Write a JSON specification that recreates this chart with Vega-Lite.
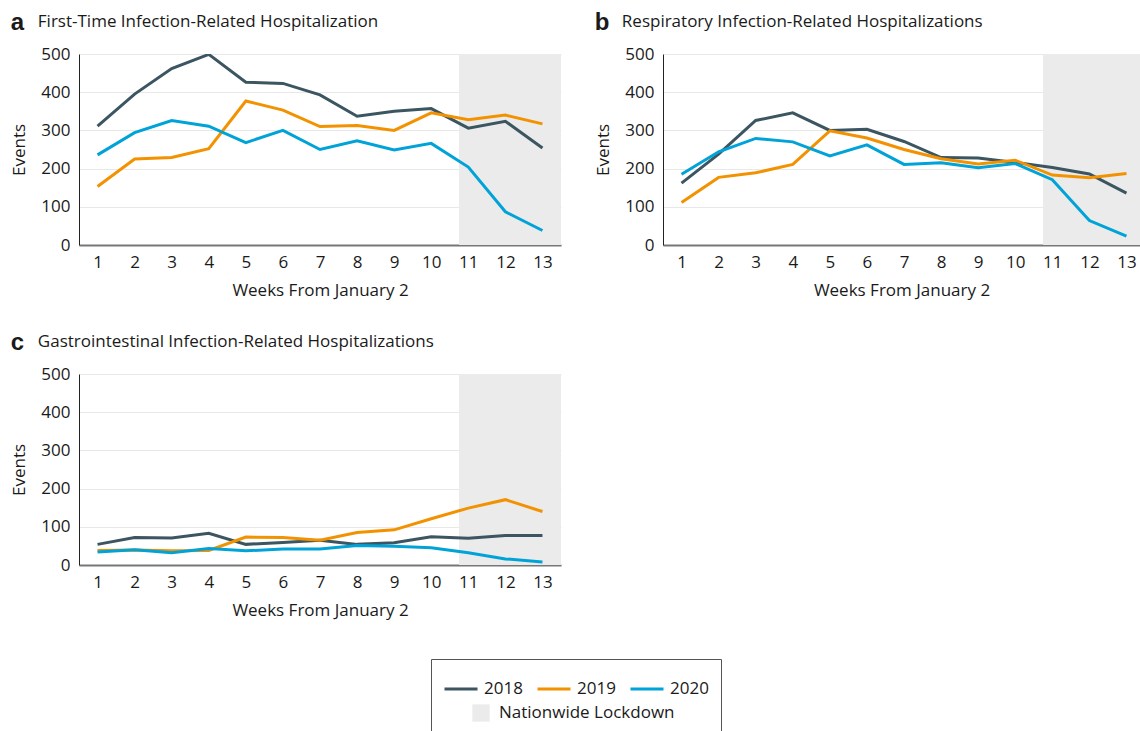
{
  "$schema": "https://vega.github.io/schema/vega-lite/v6.json",
  "padding": {"left": 10, "top": 11, "right": 0, "bottom": 0},
  "background": "white",
  "config": {
    "font": "Open Sans",
    "view": {"stroke": null},
    "axis": {"labelFont": "Open Sans", "labelFontSize": 17, "labelColor": "#1a1a1a", "titleFont": "Open Sans", "titleFontSize": 17, "titleFontWeight": "normal", "titleColor": "#1a1a1a", "ticks": false},
    "axisY": {"gridColor": "#e8e8e8", "domainColor": "#222222", "labelPadding": 9, "titlePadding": 12},
    "axisX": {"grid": false, "domainColor": "#777777", "domainWidth": 2, "labelPadding": 9, "titlePadding": 12, "labelOverlap": false, "labelFlush": false, "labelBound": false},
    "title": {"font": "Open Sans", "fontSize": 17, "fontWeight": "normal", "anchor": "start", "color": "#1a1a1a"},
    "legend": {"labelFont": "Open Sans", "labelFontSize": 17, "labelColor": "#1a1a1a", "labelLimit": 300}
  },
  "datasets": {
    "lock": [{"start": 10.75, "end": 13.5, "series": "Nationwide Lockdown"}],
    "d": [
      {"p": "a", "series": "2018", "week": 1, "v": 311}, {"p": "a", "series": "2018", "week": 2, "v": 395}, {"p": "a", "series": "2018", "week": 3, "v": 462}, {"p": "a", "series": "2018", "week": 4, "v": 499}, {"p": "a", "series": "2018", "week": 5, "v": 426}, {"p": "a", "series": "2018", "week": 6, "v": 423}, {"p": "a", "series": "2018", "week": 7, "v": 393}, {"p": "a", "series": "2018", "week": 8, "v": 337}, {"p": "a", "series": "2018", "week": 9, "v": 350}, {"p": "a", "series": "2018", "week": 10, "v": 357}, {"p": "a", "series": "2018", "week": 11, "v": 306}, {"p": "a", "series": "2018", "week": 12, "v": 324}, {"p": "a", "series": "2018", "week": 13, "v": 254},
      {"p": "a", "series": "2019", "week": 1, "v": 153}, {"p": "a", "series": "2019", "week": 2, "v": 225}, {"p": "a", "series": "2019", "week": 3, "v": 229}, {"p": "a", "series": "2019", "week": 4, "v": 252}, {"p": "a", "series": "2019", "week": 5, "v": 377}, {"p": "a", "series": "2019", "week": 6, "v": 353}, {"p": "a", "series": "2019", "week": 7, "v": 310}, {"p": "a", "series": "2019", "week": 8, "v": 313}, {"p": "a", "series": "2019", "week": 9, "v": 300}, {"p": "a", "series": "2019", "week": 10, "v": 346}, {"p": "a", "series": "2019", "week": 11, "v": 328}, {"p": "a", "series": "2019", "week": 12, "v": 340}, {"p": "a", "series": "2019", "week": 13, "v": 317},
      {"p": "a", "series": "2020", "week": 1, "v": 236}, {"p": "a", "series": "2020", "week": 2, "v": 294}, {"p": "a", "series": "2020", "week": 3, "v": 326}, {"p": "a", "series": "2020", "week": 4, "v": 311}, {"p": "a", "series": "2020", "week": 5, "v": 268}, {"p": "a", "series": "2020", "week": 6, "v": 300}, {"p": "a", "series": "2020", "week": 7, "v": 250}, {"p": "a", "series": "2020", "week": 8, "v": 273}, {"p": "a", "series": "2020", "week": 9, "v": 249}, {"p": "a", "series": "2020", "week": 10, "v": 266}, {"p": "a", "series": "2020", "week": 11, "v": 204}, {"p": "a", "series": "2020", "week": 12, "v": 87}, {"p": "a", "series": "2020", "week": 13, "v": 38},
      {"p": "b", "series": "2018", "week": 1, "v": 162}, {"p": "b", "series": "2018", "week": 2, "v": 238}, {"p": "b", "series": "2018", "week": 3, "v": 326}, {"p": "b", "series": "2018", "week": 4, "v": 346}, {"p": "b", "series": "2018", "week": 5, "v": 300}, {"p": "b", "series": "2018", "week": 6, "v": 303}, {"p": "b", "series": "2018", "week": 7, "v": 271}, {"p": "b", "series": "2018", "week": 8, "v": 229}, {"p": "b", "series": "2018", "week": 9, "v": 228}, {"p": "b", "series": "2018", "week": 10, "v": 216}, {"p": "b", "series": "2018", "week": 11, "v": 203}, {"p": "b", "series": "2018", "week": 12, "v": 186}, {"p": "b", "series": "2018", "week": 13, "v": 136},
      {"p": "b", "series": "2019", "week": 1, "v": 111}, {"p": "b", "series": "2019", "week": 2, "v": 177}, {"p": "b", "series": "2019", "week": 3, "v": 189}, {"p": "b", "series": "2019", "week": 4, "v": 211}, {"p": "b", "series": "2019", "week": 5, "v": 299}, {"p": "b", "series": "2019", "week": 6, "v": 280}, {"p": "b", "series": "2019", "week": 7, "v": 250}, {"p": "b", "series": "2019", "week": 8, "v": 226}, {"p": "b", "series": "2019", "week": 9, "v": 212}, {"p": "b", "series": "2019", "week": 10, "v": 222}, {"p": "b", "series": "2019", "week": 11, "v": 183}, {"p": "b", "series": "2019", "week": 12, "v": 176}, {"p": "b", "series": "2019", "week": 13, "v": 187},
      {"p": "b", "series": "2020", "week": 1, "v": 185}, {"p": "b", "series": "2020", "week": 2, "v": 244}, {"p": "b", "series": "2020", "week": 3, "v": 279}, {"p": "b", "series": "2020", "week": 4, "v": 270}, {"p": "b", "series": "2020", "week": 5, "v": 233}, {"p": "b", "series": "2020", "week": 6, "v": 262}, {"p": "b", "series": "2020", "week": 7, "v": 211}, {"p": "b", "series": "2020", "week": 8, "v": 215}, {"p": "b", "series": "2020", "week": 9, "v": 202}, {"p": "b", "series": "2020", "week": 10, "v": 213}, {"p": "b", "series": "2020", "week": 11, "v": 171}, {"p": "b", "series": "2020", "week": 12, "v": 64}, {"p": "b", "series": "2020", "week": 13, "v": 23},
      {"p": "c", "series": "2018", "week": 1, "v": 54}, {"p": "c", "series": "2018", "week": 2, "v": 72}, {"p": "c", "series": "2018", "week": 3, "v": 71}, {"p": "c", "series": "2018", "week": 4, "v": 83}, {"p": "c", "series": "2018", "week": 5, "v": 54}, {"p": "c", "series": "2018", "week": 6, "v": 59}, {"p": "c", "series": "2018", "week": 7, "v": 65}, {"p": "c", "series": "2018", "week": 8, "v": 54}, {"p": "c", "series": "2018", "week": 9, "v": 58}, {"p": "c", "series": "2018", "week": 10, "v": 74}, {"p": "c", "series": "2018", "week": 11, "v": 70}, {"p": "c", "series": "2018", "week": 12, "v": 77}, {"p": "c", "series": "2018", "week": 13, "v": 77},
      {"p": "c", "series": "2019", "week": 1, "v": 38}, {"p": "c", "series": "2019", "week": 2, "v": 39}, {"p": "c", "series": "2019", "week": 3, "v": 37}, {"p": "c", "series": "2019", "week": 4, "v": 38}, {"p": "c", "series": "2019", "week": 5, "v": 73}, {"p": "c", "series": "2019", "week": 6, "v": 72}, {"p": "c", "series": "2019", "week": 7, "v": 65}, {"p": "c", "series": "2019", "week": 8, "v": 85}, {"p": "c", "series": "2019", "week": 9, "v": 92}, {"p": "c", "series": "2019", "week": 10, "v": 121}, {"p": "c", "series": "2019", "week": 11, "v": 149}, {"p": "c", "series": "2019", "week": 12, "v": 171}, {"p": "c", "series": "2019", "week": 13, "v": 140},
      {"p": "c", "series": "2020", "week": 1, "v": 34}, {"p": "c", "series": "2020", "week": 2, "v": 40}, {"p": "c", "series": "2020", "week": 3, "v": 32}, {"p": "c", "series": "2020", "week": 4, "v": 43}, {"p": "c", "series": "2020", "week": 5, "v": 37}, {"p": "c", "series": "2020", "week": 6, "v": 42}, {"p": "c", "series": "2020", "week": 7, "v": 42}, {"p": "c", "series": "2020", "week": 8, "v": 51}, {"p": "c", "series": "2020", "week": 9, "v": 49}, {"p": "c", "series": "2020", "week": 10, "v": 45}, {"p": "c", "series": "2020", "week": 11, "v": 32}, {"p": "c", "series": "2020", "week": 12, "v": 16}, {"p": "c", "series": "2020", "week": 13, "v": 8}
    ]
  },
  "spacing": 33,
  "vconcat": [
    {
      "spacing": 33,
      "hconcat": [
        {
          "title": {"text": "a", "font": "Liberation Sans", "fontWeight": "bold", "fontSize": 24, "dy": 26},
          "vconcat": [
            {
              "title": {"text": "First-Time Infection-Related Hospitalization", "dx": 27, "offset": 14},
              "width": 482, "height": 191,
              "layer": [
                {"data": {"name": "lock"}, "mark": {"type": "rect", "clip": true},
                 "encoding": {
                   "x": {"field": "start", "type": "quantitative", "scale": {"domain": [0.5, 13.5], "zero": false, "nice": false}, "axis": {"values": [1,2,3,4,5,6,7,8,9,10,11,12,13], "title": "Weeks From January 2", "labelOverlap": false, "labelFlush": false}},
                   "x2": {"field": "end"},
                   "fill": {"field": "series", "type": "nominal", "scale": {"domain": ["Nationwide Lockdown"], "range": ["#ebebeb"]},
                     "legend": {"orient": "none", "legendX": 393, "legendY": 650, "direction": "horizontal", "title": null, "padding": 0, "symbolType": "square", "symbolSize": 300, "symbolStrokeWidth": 0, "symbolOpacity": 1, "labelOffset": 9, "labelLimit": 300}}
                 }},
                {"data": {"name": "d"}, "transform": [{"filter": "datum.p === 'a'"}], "mark": {"type": "line", "strokeWidth": 3, "clip": true},
                 "encoding": {
                   "x": {"field": "week", "type": "quantitative", "scale": {"domain": [0.5, 13.5], "zero": false, "nice": false}, "axis": {"values": [1,2,3,4,5,6,7,8,9,10,11,12,13], "title": "Weeks From January 2", "labelOverlap": false, "labelFlush": false}},
                   "y": {"field": "v", "type": "quantitative", "scale": {"domain": [0, 500]}, "axis": {"values": [0, 100, 200, 300, 400, 500], "title": "Events"}},
                   "stroke": {"field": "series", "type": "nominal", "scale": {"domain": ["2018", "2019", "2020"], "range": ["#3b5561", "#f39200", "#00a3d7"]},
                     "legend": {"orient": "none", "legendX": 352, "legendY": 605, "direction": "horizontal", "title": " ", "titleOrient": "bottom", "titleFontSize": 34, "titlePadding": 4, "strokeColor": "#555555", "padding": 12, "columnPadding": 8, "symbolType": "stroke", "symbolStrokeWidth": 3, "symbolSize": 1089, "labelOffset": 5}}
                 }}
              ]
            }
          ]
        },
        {
          "title": {"text": "b", "font": "Liberation Sans", "fontWeight": "bold", "fontSize": 24, "dy": 26},
          "vconcat": [
            {
              "title": {"text": "Respiratory Infection-Related Hospitalizations", "dx": 27, "offset": 14},
              "width": 477, "height": 191,
              "layer": [
                {"data": {"name": "lock"}, "mark": {"type": "rect", "clip": true},
                 "encoding": {
                   "x": {"field": "start", "type": "quantitative", "scale": {"domain": [0.5, 13.365], "zero": false, "nice": false}, "axis": {"values": [1,2,3,4,5,6,7,8,9,10,11,12,13], "title": "Weeks From January 2", "labelOverlap": false, "labelFlush": false}},
                   "x2": {"field": "end"},
                   "fill": {"field": "series", "type": "nominal"}
                 }},
                {"data": {"name": "d"}, "transform": [{"filter": "datum.p === 'b'"}], "mark": {"type": "line", "strokeWidth": 3, "clip": true},
                 "encoding": {
                   "x": {"field": "week", "type": "quantitative", "scale": {"domain": [0.5, 13.365], "zero": false, "nice": false}, "axis": {"values": [1,2,3,4,5,6,7,8,9,10,11,12,13], "title": "Weeks From January 2", "labelOverlap": false, "labelFlush": false}},
                   "y": {"field": "v", "type": "quantitative", "scale": {"domain": [0, 500]}, "axis": {"values": [0, 100, 200, 300, 400, 500], "title": "Events"}},
                   "stroke": {"field": "series", "type": "nominal"}
                 }}
              ]
            }
          ]
        }
      ]
    },
    {
      "hconcat": [
        {
          "title": {"text": "c", "font": "Liberation Sans", "fontWeight": "bold", "fontSize": 24, "dy": 26},
          "vconcat": [
            {
              "title": {"text": "Gastrointestinal Infection-Related Hospitalizations", "dx": 27, "offset": 14},
              "width": 482, "height": 191,
              "layer": [
                {"data": {"name": "lock"}, "mark": {"type": "rect", "clip": true},
                 "encoding": {
                   "x": {"field": "start", "type": "quantitative", "scale": {"domain": [0.5, 13.5], "zero": false, "nice": false}, "axis": {"values": [1,2,3,4,5,6,7,8,9,10,11,12,13], "title": "Weeks From January 2", "labelOverlap": false, "labelFlush": false}},
                   "x2": {"field": "end"},
                   "fill": {"field": "series", "type": "nominal"}
                 }},
                {"data": {"name": "d"}, "transform": [{"filter": "datum.p === 'c'"}], "mark": {"type": "line", "strokeWidth": 3, "clip": true},
                 "encoding": {
                   "x": {"field": "week", "type": "quantitative", "scale": {"domain": [0.5, 13.5], "zero": false, "nice": false}, "axis": {"values": [1,2,3,4,5,6,7,8,9,10,11,12,13], "title": "Weeks From January 2", "labelOverlap": false, "labelFlush": false}},
                   "y": {"field": "v", "type": "quantitative", "scale": {"domain": [0, 500]}, "axis": {"values": [0, 100, 200, 300, 400, 500], "title": "Events"}},
                   "stroke": {"field": "series", "type": "nominal"}
                 }}
              ]
            }
          ]
        }
      ]
    }
  ]
}
